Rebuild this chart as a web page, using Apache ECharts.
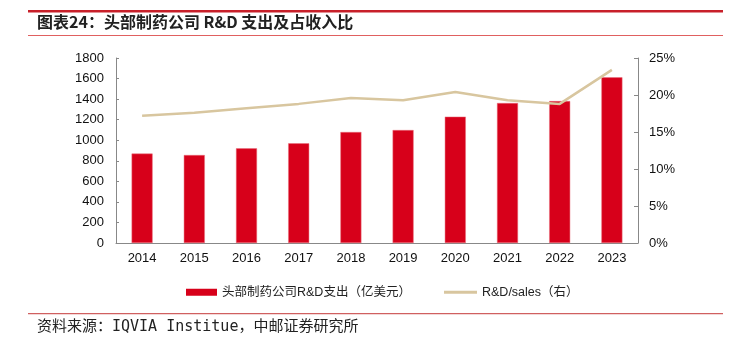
<!DOCTYPE html>
<html>
<head>
<meta charset="utf-8">
<script src="https://cdn.jsdelivr.net/npm/echarts@6/dist/echarts.min.js"></script>
<style>
  html, body { margin: 0; padding: 0; background: #fff; }
  #chart { width: 739px; height: 341px; }
</style>
</head>
<body>
<div id="chart"></div>
<script>
// data
const years = ['2014', '2015', '2016', '2017', '2018', '2019', '2020', '2021', '2022', '2023']
const rdSpend = [870, 856, 921, 970, 1080, 1099, 1229, 1362, 1381, 1612]
const rdSales = [17.2, 17.6, 18.2, 18.8, 19.6, 19.3, 20.4, 19.3, 18.8, 23.4]
const leftTicks = [0, 200, 400, 600, 800, 1000, 1200, 1400, 1600, 1800]
const rightTicks = [0, 5, 10, 15, 20, 25]

const barName = '头部制药公司R&D支出（亿美元）'
const lineName = 'R&D/sales（右）'

const chart = echarts.init(document.getElementById('chart'))
const axisColor = '#888'
const labelStyle = { color: '#111', fontSize: 13, fontFamily: 'Liberation Sans, Arial, sans-serif' }
const legendText = { color: '#222', fontSize: 12.5, fontFamily: 'Liberation Sans, "Noto Sans CJK SC", sans-serif' }

chart.setOption({
  backgroundColor: '#fff',
  animation: false,
  graphic: [
    { type: 'rect', shape: { x: 28, y: 10, width: 695, height: 2.5 }, style: { fill: '#C8202A' } },
    { type: 'rect', shape: { x: 28, y: 35, width: 695, height: 1 }, style: { fill: '#E06060' } },
    { type: 'rect', shape: { x: 28, y: 313, width: 695, height: 1.2 }, style: { fill: '#D06060' } },
    {
      type: 'text', left: 37, top: 14,
      style: { text: '图表24：头部制药公司 R&D 支出及占收入比', fill: '#222', font: 'bold 16px "Noto Sans CJK SC", sans-serif' }
    },
    {
      type: 'text', left: 37, top: 320,
      style: { text: '资料来源：IQVIA Institue，中邮证券研究所', fill: '#222', font: '15px "DejaVu Sans Mono", "Noto Sans CJK SC", monospace' }
    }
  ],
  grid: { left: 116, right: 101, top: 58, bottom: 98 },
  legend: [
    {
      top: 281,
      left: 181,
      itemWidth: 31,
      itemHeight: 7,
      itemGap: 5,
      itemStyle: { borderWidth: 0 },
      textStyle: legendText,
      data: [{ name: barName, icon: 'rect' }]
    },
    {
      top: 281,
      left: 439,
      itemWidth: 33,
      itemHeight: 3,
      textStyle: legendText,
      data: [{ name: lineName, icon: 'rect' }]
    }
  ],
  xAxis: {
    type: 'category',
    data: years,
    axisLine: { lineStyle: { color: axisColor } },
    axisTick: { inside: true, length: 4, lineStyle: { color: axisColor } },
    axisLabel: Object.assign({ margin: 9 }, labelStyle)
  },
  yAxis: [
    {
      type: 'value',
      min: leftTicks[0],
      max: leftTicks[leftTicks.length - 1],
      interval: leftTicks[1] - leftTicks[0],
      splitLine: { show: false },
      axisLine: { show: true, lineStyle: { color: axisColor } },
      axisTick: { show: true, inside: true, length: 3, lineStyle: { color: axisColor } },
      axisLabel: Object.assign({ margin: 12, formatter: v => String(v) }, labelStyle)
    },
    {
      type: 'value',
      min: rightTicks[0],
      max: rightTicks[rightTicks.length - 1],
      interval: rightTicks[1] - rightTicks[0],
      splitLine: { show: false },
      axisLine: { show: true, lineStyle: { color: axisColor } },
      axisTick: { show: true, inside: true, length: 4, lineStyle: { color: axisColor } },
      axisLabel: Object.assign({ margin: 11, formatter: '{value}%' }, labelStyle)
    }
  ],
  series: [
    {
      name: barName,
      type: 'bar',
      data: rdSpend,
      barWidth: 21,
      itemStyle: { color: '#D7001A', borderColor: '#E8707C', borderWidth: 0.5 }
    },
    {
      name: lineName,
      type: 'line',
      yAxisIndex: 1,
      data: rdSales,
      symbol: 'none',
      lineStyle: { color: '#D8C69F', width: 2.5 },
      itemStyle: { color: '#D8C69F' }
    }
  ]
})
</script>
</body>
</html>
